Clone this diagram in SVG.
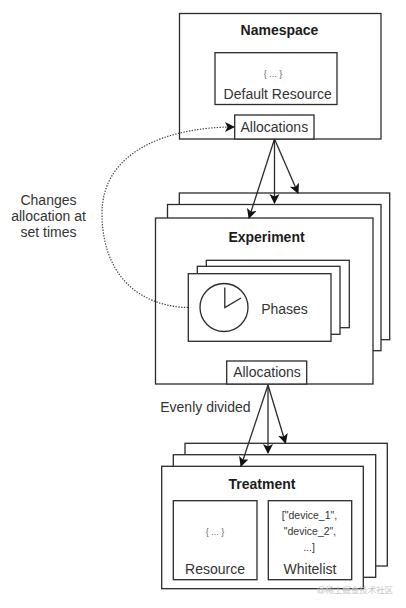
<svg xmlns="http://www.w3.org/2000/svg" width="406" height="608" viewBox="0 0 406 608">
<style>
.b{fill:#fff;stroke:#2b2b2b;stroke-width:1.3}
text{font-family:"Liberation Sans",Arial,sans-serif;fill:#333;text-anchor:middle;font-size:14px}
.t{font-weight:bold;fill:#1c1c1c}
.s{font-size:9px;fill:#666}
.w{font-size:10.500px}
.c{fill:none;stroke:#2b2b2b;stroke-width:1.3}
.d{fill:none;stroke:#444;stroke-width:1.2;stroke-dasharray:1.4 1.4}
</style>
<defs>
<marker id="a" markerUnits="userSpaceOnUse" markerWidth="12" markerHeight="12" refX="9" refY="5" orient="auto"><path d="M0 0L10 5L0 10L2.5 5Z" fill="#111"/></marker>
</defs>
<rect width="406" height="608" fill="#fff"/>
<g id="namespace">
<rect class="b" x="179.500" y="13.500" width="201.500" height="125.500"/>
<text class="t" x="279.500" y="35">Namespace</text>
<rect class="b" x="215" y="52.700" width="122" height="51.800"/>
<text class="s" x="273" y="77">{ ... }</text>
<text x="277.700" y="99">Default Resource</text>
</g>
<g id="namespace-allocations">
<rect class="b" x="234.700" y="115" width="79.300" height="24"/>
<text x="274.300" y="131.500">Allocations</text>
</g>
<g id="experiment">
<rect class="b" x="179.300" y="193" width="210.400" height="146.700"/>
<rect class="b" x="167.500" y="204.500" width="213.500" height="146.200"/>
<rect class="b" x="155.500" y="218" width="217.500" height="166"/>
<text class="t" x="266.500" y="242">Experiment</text>
</g>
<g id="phases">
<rect class="b" x="206.300" y="260.300" width="143" height="67.400"/>
<rect class="b" x="197.300" y="266.300" width="142.700" height="68"/>
<rect class="b" x="188.300" y="273.700" width="142.700" height="67.600"/>
<circle class="c" cx="224" cy="307.500" r="24"/>
<path class="c" d="M224.800 287.500V307.500L241 298"/>
<text x="284.500" y="314">Phases</text>
</g>
<g id="experiment-allocations">
<rect class="b" x="226.700" y="361" width="80" height="23"/>
<text x="267" y="377">Allocations</text>
</g>
<g id="treatment">
<rect class="b" x="185" y="443.300" width="202.300" height="122.700"/>
<rect class="b" x="173.300" y="454.700" width="202.400" height="122.600"/>
<rect class="b" x="161.700" y="466.300" width="201.600" height="122.400"/>
<text class="t" x="262" y="489">Treatment</text>
</g>
<g id="resource">
<rect class="b" x="173.300" y="500.700" width="83.700" height="79"/>
<text class="s" x="215" y="535">{ ... }</text>
<text x="215" y="574">Resource</text>
</g>
<g id="whitelist">
<rect class="b" x="268.300" y="500.700" width="83.400" height="79"/>
<text class="w" x="309.500" y="519">["device_1",</text>
<text class="w" x="310" y="535">"device_2",</text>
<text class="w" x="309" y="551">...]</text>
<text x="310" y="574">Whitelist</text>
</g>
<g id="connectors">
<path class="c" marker-end="url(#a)" d="M274.500 139L249 218"/>
<path class="c" marker-end="url(#a)" d="M274.500 139V203"/>
<path class="c" marker-end="url(#a)" d="M274.500 139L298 193"/>
<path class="c" marker-end="url(#a)" d="M268 385L241 466"/>
<path class="c" marker-end="url(#a)" d="M268 385V453"/>
<path class="c" marker-end="url(#a)" d="M268 385L285.500 443"/>
<path class="d" marker-end="url(#a)" d="M188 307.500C150 307 103 285 102 215C101 150 170 127 234 127"/>
</g>
<g id="labels">
<text x="48.500" y="205">Changes</text>
<text x="48.500" y="221">allocation at</text>
<text x="48.500" y="236.700">set times</text>
<text x="205.400" y="412">Evenly divided</text>
<text style="font-size:8.500px;fill:#c4c4c4;font-family:'Liberation Sans','Noto Sans CJK SC',sans-serif" x="355" y="593">@稀土掘金技术社区</text>
</g>
</svg>
